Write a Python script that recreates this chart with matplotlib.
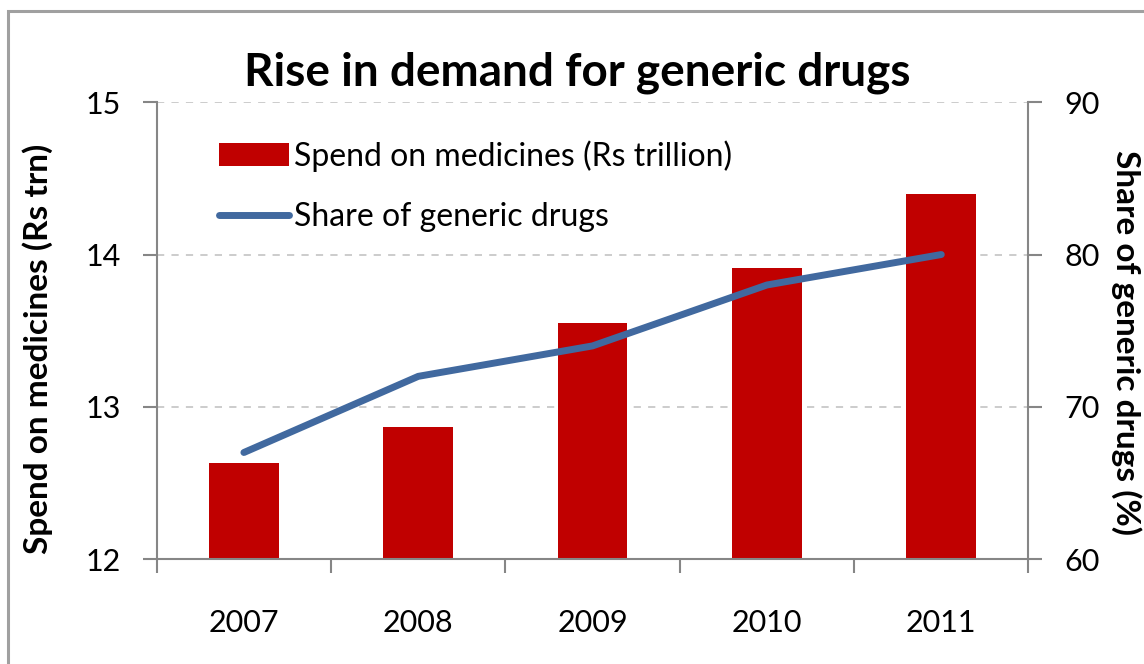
import matplotlib.pyplot as plt
from matplotlib.patches import Rectangle
from matplotlib.ticker import FixedLocator

plt.rcParams['font.family'] = ['Lato', 'DejaVu Sans']

# 데이터
years = ['2007', '2008', '2009', '2010', '2011']
spend = [12.63, 12.87, 13.55, 13.91, 14.40]
share = [67.0, 72.0, 74.0, 78.0, 80.0]

bar_color = '#C00000'
line_color = '#41699F'
axis_grey = '#868686'

fig = plt.figure(figsize=(11.44, 6.64), dpi=100)
ax1 = fig.add_axes([0.137, 0.158, 0.762, 0.688])

# 바깥 테두리 (오른쪽/아래는 잘려 있음)
fig.patches.append(Rectangle((0.007, -0.1), 1.2, 0.1 + 0.983, transform=fig.transFigure,
                             fill=False, edgecolor='#A0A0A0', linewidth=2.2))

x = list(range(len(years)))
bars = ax1.bar(x, spend, width=0.4, color=bar_color, label='Spend on medicines (Rs trillion)', zorder=2)
ax1.set_ylim(12, 15)
ax1.set_xlim(-0.5, len(years) - 0.5)
ax1.set_yticks([12, 13, 14, 15])
ax1.set_xticks(x)
ax1.set_xticklabels(years)
ax1.xaxis.set_minor_locator(FixedLocator([i - 0.5 for i in range(len(years) + 1)]))
ax1.tick_params(axis='x', which='major', length=0, pad=36, labelsize=22)
ax1.tick_params(axis='x', which='minor', length=10, width=1.5, color=axis_grey, direction='out')
ax1.tick_params(axis='y', length=10, width=1.5, color=axis_grey, pad=16, labelsize=22)
ax1.yaxis.grid(True, linestyle=(0, (4, 4)), color='#C8C8C8', linewidth=1.3, zorder=0)
ax1.set_axisbelow(True)
for s in ['top', 'right']:
    ax1.spines[s].set_visible(False)
for s in ['left', 'bottom']:
    ax1.spines[s].set_color(axis_grey)
    ax1.spines[s].set_linewidth(1.5)
ax1.set_ylabel('Spend on medicines (Rs trn)', fontsize=24, fontweight='bold', va='center')
ax1.yaxis.set_label_coords(-0.137, 0.46)

ax2 = ax1.twinx()
line, = ax2.plot(x, share, color=line_color, linewidth=5, solid_capstyle='round',
                 label='Share of generic drugs')
ax2.set_ylim(60, 90)
ax2.set_yticks([60, 70, 80, 90])
ax2.tick_params(axis='y', length=10, width=1.5, color=axis_grey, pad=16, labelsize=22)
for s in ['top', 'left', 'bottom']:
    ax2.spines[s].set_visible(False)
ax2.spines['right'].set_color(axis_grey)
ax2.spines['right'].set_linewidth(1.5)
ax2.set_ylabel('Share of generic drugs (%)', fontsize=24, fontweight='bold', rotation=-90,
               va='center')
ax2.yaxis.set_label_coords(1.112, 0.475)

ax2.legend([bars, line], [bars.get_label(), line.get_label()], loc='upper left',
           bbox_to_anchor=(0.038, 0.98), frameon=False, fontsize=23,
           handlelength=2.2, handletextpad=0.15, labelspacing=0.95)

fig.text(0.505, 0.89, 'Rise in demand for generic drugs', ha='center', va='center',
         fontsize=33, fontweight='bold')

fig.savefig('out.png', dpi=100)
